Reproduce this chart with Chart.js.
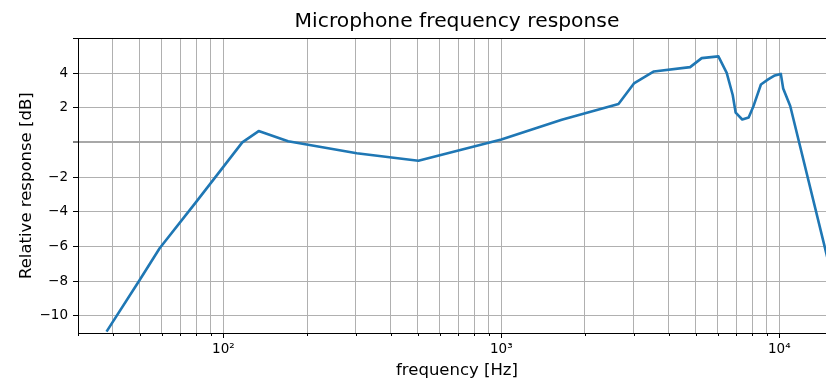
<!DOCTYPE html>
<html>
<head>
<meta charset="utf-8">
<title>Microphone frequency response</title>
<script src="https://cdn.jsdelivr.net/npm/chart.js@4/dist/chart.umd.min.js"></script>
<style>
  html, body { margin: 0; padding: 0; background: #fff; overflow: hidden; width: 826px; height: 379px; }
  #wrap { position: relative; width: 860px; height: 379px; }
</style>
</head>
<body>
<div id="wrap"><canvas id="chart" width="860" height="379"></canvas></div>
<script>
// Measured response: frequency (Hz) and relative level (dB)
const frequencies = [38, 50, 59, 80, 117, 134, 171, 302, 503, 1000, 1650, 2640, 3000, 3540, 4780, 5260, 6040, 6470, 6800, 6970, 7360, 7760, 8060, 8590, 9120, 9640, 10130, 10330, 10950, 15000];
const responseDb  = [-10.92, -7.94, -6.11, -3.42, 0.0, 0.65, 0.06, -0.63, -1.06, 0.17, 1.3, 2.21, 3.4, 4.09, 4.34, 4.86, 4.96, 4.01, 2.73, 1.71, 1.32, 1.44, 2.05, 3.34, 3.63, 3.86, 3.95, 3.11, 2.1, -6.85];

// Axis ticks: log decades with minor subdivisions, and even dB steps
const xTickValues = [30, 40, 50, 60, 70, 80, 90,
                     100, 200, 300, 400, 500, 600, 700, 800, 900,
                     1000, 2000, 3000, 4000, 5000, 6000, 7000, 8000, 9000,
                     10000];
const xLabelValues = [100, 1000, 10000];
const xLabelTexts  = ['10²', '10³', '10⁴'];
const yTickValues  = [-10, -8, -6, -4, -2, 0, 2, 4, 6];
const yHiddenLabels = [0, 6];

const FONT = 'DejaVu Sans';

// Tick marks on the frequency axis: longer for decades, shorter for subdivisions,
// plus the frame line along the top of the plot area.
const frameAndTicks = {
  id: 'frameAndTicks',
  afterDraw(chart) {
    const { ctx, chartArea } = chart;
    const xs = chart.scales.x;
    ctx.save();
    ctx.strokeStyle = '#000';
    ctx.lineWidth = 1;
    ctx.beginPath();
    for (const v of xTickValues) {
      const px = Math.round(xs.getPixelForValue(v)) + 0.5;
      const len = xLabelValues.includes(v) ? 5 : 3;
      ctx.moveTo(px, chartArea.bottom);
      ctx.lineTo(px, chartArea.bottom + len);
    }
    ctx.stroke();
    ctx.beginPath();
    const top = Math.round(chartArea.top) + 0.5;
    ctx.moveTo(chartArea.left, top);
    ctx.lineTo(chartArea.right, top);
    ctx.stroke();
    ctx.restore();
  }
};

new Chart(document.getElementById('chart'), {
  type: 'line',
  data: {
    datasets: [{
      data: frequencies.map((f, i) => ({ x: f, y: responseDb[i] })),
      borderColor: '#1f77b4',
      borderWidth: 2.6,
      borderJoinStyle: 'round',
      pointRadius: 0,
      fill: false,
      tension: 0
    }]
  },
  options: {
    responsive: false,
    devicePixelRatio: 1,
    animation: false,
    layout: { padding: { left: 0, right: 24, top: 0, bottom: 0 } },
    plugins: {
      legend: { display: false },
      tooltip: { enabled: false },
      title: {
        display: true,
        text: 'Microphone frequency response',
        fullSize: false,
        color: '#000',
        font: { family: FONT, size: 20.3, weight: 'normal', lineHeight: 1.2 },
        padding: { top: 10, bottom: 4 }
      }
    },
    scales: {
      x: {
        type: 'logarithmic',
        min: 30,
        max: 16000,
        afterBuildTicks: s => { s.ticks = xTickValues.map(v => ({ value: v })); },
        afterFit: s => { s.height = 46; },
        ticks: {
          autoSkip: false,
          maxRotation: 0,
          minRotation: 0,
          padding: 8,
          color: '#000',
          font: { family: FONT, size: 13.5 },
          callback: v => {
            const i = xLabelValues.indexOf(v);
            return i >= 0 ? xLabelTexts[i] : '';
          }
        },
        grid: { color: '#b0b0b0', lineWidth: 1, drawTicks: false },
        border: { color: '#000', width: 1 },
        title: {
          display: true,
          text: 'frequency [Hz]',
          color: '#000',
          font: { family: FONT, size: 16.5, lineHeight: 1 },
          padding: { top: 0, bottom: 0 }
        }
      },
      y: {
        type: 'linear',
        min: -11,
        max: 6,
        afterBuildTicks: s => { s.ticks = yTickValues.map(v => ({ value: v })); },
        afterFit: s => { s.width = 78; },
        ticks: {
          padding: 5,
          color: '#000',
          font: { family: FONT, size: 13.5 },
          callback: v => yHiddenLabels.includes(v) ? '' : (v < 0 ? '\u2212' + Math.abs(v) : String(v))
        },
        grid: {
          color: c => (c.tick && c.tick.value === 0) ? '#a8a8a8' : '#b0b0b0',
          lineWidth: c => (c.tick && c.tick.value === 0) ? 2 : 1,
          drawTicks: true,
          tickLength: 5,
          tickColor: '#000',
          tickWidth: 1
        },
        border: { color: '#000', width: 1 },
        title: {
          display: true,
          text: 'Relative response [dB]',
          color: '#000',
          font: { family: FONT, size: 16.5, lineHeight: 1.2 },
          padding: { top: 17, bottom: 0 }
        }
      }
    }
  },
  plugins: [frameAndTicks]
});
</script>
</body>
</html>
